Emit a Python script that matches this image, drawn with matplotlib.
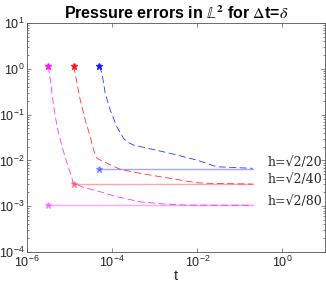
import numpy as np
import matplotlib
matplotlib.use("Agg")
import matplotlib.pyplot as plt
from matplotlib.ticker import LogLocator, NullFormatter, FixedLocator, NullLocator

plt.rcParams['font.family'] = ['Liberation Sans', 'DejaVu Sans']
plt.rcParams['mathtext.fontset'] = 'stix'
plt.rcParams['lines.scale_dashes'] = False

# time step for each mesh (dt = delta)
labels = ['h=\u221a2/20', 'h=\u221a2/40', 'h=\u221a2/80']
colors = ['#0000ff', '#ff0000', '#ff00ff']
dts = [5e-5, 1.25e-5, 3.125e-6]
t_end = 0.2
final_err = [6.65e-3, 3.05e-3, 1.05e-3]

# error history (dashed curves)
t_blue = [5e-5, 5.75e-5, 6.87e-5, 9.0e-5, 1.29e-4, 1.84e-4, 2.22e-4, 3.16e-4,
          2.3e-3, 9.7e-3, 2.85e-2, 0.2]
e_blue = [1.15, 0.80, 0.292, 0.126, 0.0544, 0.0304, 0.0256, 0.0217,
          0.0143, 0.0102, 0.00728, 0.00673]

t_red = [1.25e-5, 1.44e-5, 1.78e-5, 2.33e-5, 3.06e-5, 3.66e-5, 4.4e-5, 6.3e-5,
         1.55e-4, 4.55e-4, 2.3e-3, 9.7e-3, 1.99e-2, 0.2]
e_red = [1.15, 0.57, 0.208, 0.0762, 0.0329, 0.0169, 0.0111, 0.00937,
         0.0064, 0.00523, 0.00406, 0.00326, 0.00316, 0.00305]

t_mag = [3.125e-6, 3.53e-6, 4.23e-6, 5.07e-6, 6.66e-6, 8.7e-6, 1.14e-5, 1.19e-5,
         2.13e-5, 5.25e-5, 1.29e-4, 4.55e-4, 1.6e-3, 5.65e-3, 0.2]
e_mag = [1.15, 0.57, 0.149, 0.0544, 0.0199, 0.00865, 0.00406, 0.00321,
         0.00259, 0.00207, 0.00161, 0.00125, 0.00112, 0.00106, 0.00105]

curves_t = [t_blue, t_red, t_mag]
curves_e = [e_blue, e_red, e_mag]

xticks = [1e-6, 1e-4, 1e-2, 1e0]

# label anchor (just right of the lines)
label_t = 0.45
label_e = [8.8e-3, 3.75e-3, 1.25e-3]

fig = plt.figure(figsize=(3.26, 2.89), dpi=100)
ax = fig.add_axes([0.083, 0.128, 0.914, 0.792])

for i in range(3):
    c = colors[i]
    ax.plot(curves_t[i], curves_e[i], color=c, lw=0.6, dashes=(5, 2.5),
            marker='*', markevery=[0], ms=4.5, alpha=0.8)
    ax.plot([dts[i], t_end], [final_err[i], final_err[i]], color=c, lw=1.0,
            alpha=0.35, marker='*', markevery=[0], ms=4.5)
    ax.text(label_t, label_e[i], labels[i], fontsize=9, color='#262626',
            ha='left', va='center', family=['DejaVu Serif'])

ax.set_xscale('log')
ax.set_yscale('log')
ax.set_xlim(1e-6, 1e1)
ax.set_ylim(1e-4, 1e1)
ax.xaxis.set_major_locator(FixedLocator(xticks))
ax.xaxis.set_minor_locator(NullLocator())
ax.yaxis.set_major_locator(LogLocator(base=10.0, numticks=10))
ax.yaxis.set_minor_locator(LogLocator(base=10.0, subs=np.arange(2, 10), numticks=10))
ax.yaxis.set_minor_formatter(NullFormatter())

ax.tick_params(which='both', direction='in', top=True, right=True,
               colors='#555555', labelcolor='#262626', labelsize=9, width=0.5)
ax.tick_params(which='major', length=3, pad=2)
ax.tick_params(which='minor', length=1.5)
for s in ax.spines.values():
    s.set_color('#555555')
    s.set_linewidth(0.6)

ax.set_xlabel('t', fontsize=10.5, color='#262626', labelpad=-1)
ax.set_title(r'Pressure errors in $\mathbb{L}^{\mathbf{2}}$ for $\Delta$t=$\delta$',
             fontsize=11.5, fontweight='bold', pad=3)

fig.savefig('out.png', dpi=100)
